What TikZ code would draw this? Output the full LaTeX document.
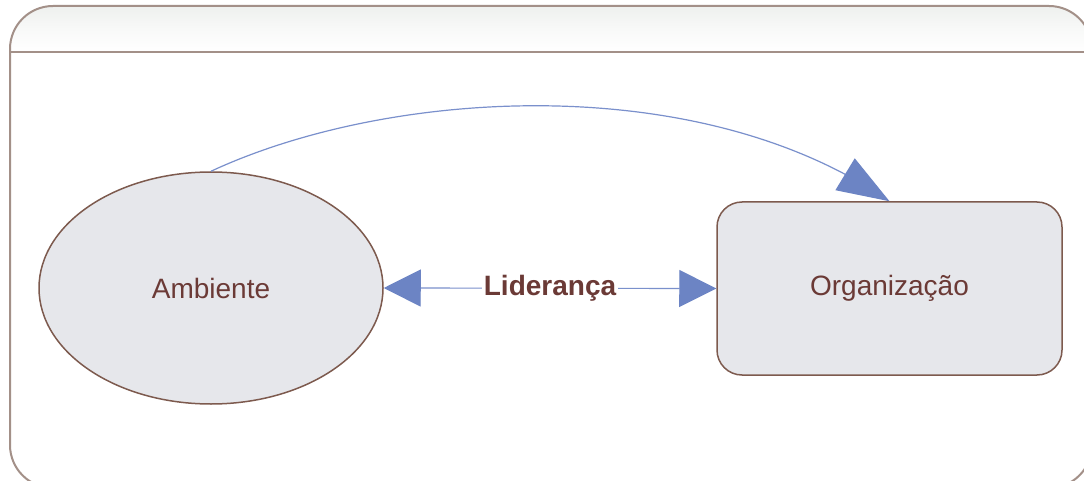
\documentclass[tikz,border=0pt]{standalone}
\usepackage{fontspec}
\setmainfont{Liberation Sans}
\usetikzlibrary{arrows.meta,shapes.geometric,bending}
\definecolor{framec}{HTML}{A39088}
\definecolor{edgec}{HTML}{7D5A4E}
\definecolor{fillc}{HTML}{E6E7EB}
\definecolor{linkc}{HTML}{7A90CC}
\definecolor{headc}{HTML}{6C84C4}
\definecolor{textc}{HTML}{6B3A36}
\definecolor{bandc}{HTML}{EEF0EE}
\tikzset{
  shapebox/.style={draw=edgec, line width=1.5pt, fill=fillc, text=textc,
    font=\fontsize{28}{34}\selectfont, inner sep=0pt},
  link/.style={draw=linkc, line width=1.2pt},
}
\begin{document}
\begin{tikzpicture}[x=1pt,y=-1pt]
\useasboundingbox (0,0) rectangle (1084,481);
\clip (0,0) rectangle (1084,481);
\fill[white] (0,0) rectangle (1084,481);
% panel with a shaded title band
\begin{scope}
  \clip[rounded corners=43pt] (10,6) rectangle (1092,488);
  \shade[top color=bandc, bottom color=white, middle color=bandc!40] (0,6) rectangle (1100,52);
\end{scope}
\draw[framec, line width=2pt, rounded corners=43pt] (10,6) rectangle (1092,488);
\draw[framec, line width=2.4pt] (10,52) -- (1092,52);
% the two blocks
\node[shapebox, ellipse, minimum width=344pt, minimum height=232pt] (amb) at (211,288) {Ambiente};
\node[shapebox, rectangle, rounded corners=25pt, minimum width=345pt, minimum height=173pt] (org) at (889.5,288.5) {Organização};
% two-way link with its label
\draw[link, {Triangle[length=37pt,width=37pt,color=headc]}-{Triangle[length=37pt,width=37pt,color=headc]}]
  (amb.east) -- node[fill=white, inner sep=2pt, text=textc, font=\bfseries\fontsize{28}{34}\selectfont] (lid) {Liderança} (org.west);
% arc over the top
\draw[link, -{Triangle[length=52pt,width=37pt,color=headc,flex]}]
  (amb.north) .. controls (390,88) and (700,70) .. (org.north);
\end{tikzpicture}
\end{document}
